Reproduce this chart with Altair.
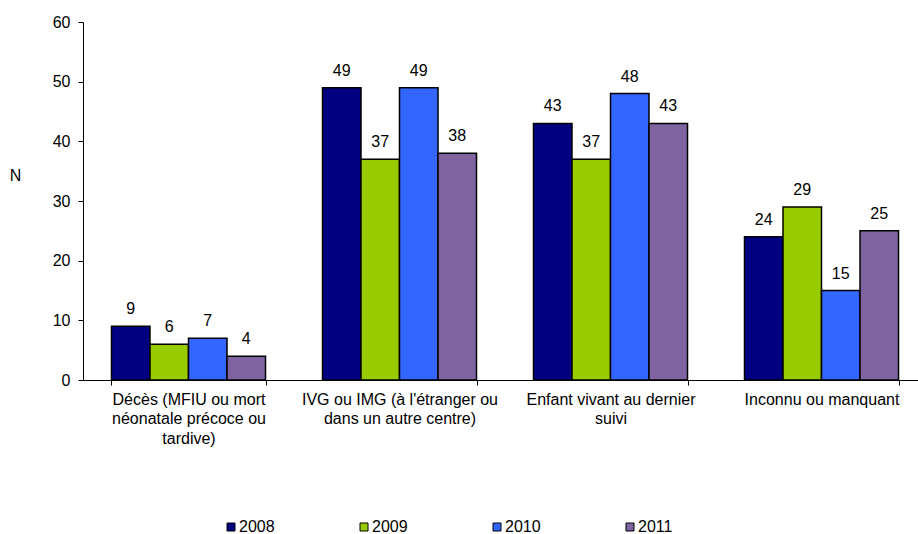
import altair as alt
import pandas as pd

# Outcome categories (line breaks mark the wrapped axis label lines)
categories = [
    "Décès (MFIU ou mort\nnéonatale précoce ou\ntardive)",
    "IVG ou IMG (à l'étranger ou\ndans un autre centre)",
    "Enfant vivant au dernier\nsuivi",
    "Inconnu ou manquant",
]
years = ["2008", "2009", "2010", "2011"]
values_2008 = [9, 49, 43, 24]
values_2009 = [6, 37, 37, 29]
values_2010 = [7, 49, 48, 15]
values_2011 = [4, 38, 43, 25]
year_colors = ["#000080", "#99CC00", "#3366FF", "#8064A2"]
y_ticks = [0, 10, 20, 30, 40, 50, 60]

series = [values_2008, values_2009, values_2010, values_2011]
rows = []
for year, vals in zip(years, series):
    for cat, v in zip(categories, vals):
        rows.append({"categorie": cat, "annee": year, "N": v})
df = pd.DataFrame(rows)

FONT = "Liberation Sans"
FS = 16

x_enc = alt.X(
    "categorie:N",
    sort=categories,
    scale=alt.Scale(paddingInner=0.27, paddingOuter=0.135, range=[0, 844]),
    axis=alt.Axis(
        title=None,
        labelExpr="split(datum.label, '\\n')",
        tickBand="extent",
        labelAngle=0,
        labelLimit=400,
        labelPadding=6,
        labelLineHeight=19.5,
        labelBaseline="top",
        tickSize=5,
        tickColor="black",
        domainColor="black",
        labelColor="black",
        labelFont=FONT,
        labelFontSize=FS,
        grid=False,
    ),
)
xoff_enc = alt.XOffset("annee:N", sort=years, scale=alt.Scale(paddingInner=0, paddingOuter=0))
y_enc = alt.Y(
    "N:Q",
    scale=alt.Scale(domain=[0, 60], nice=False),
    axis=alt.Axis(
        values=y_ticks,
        title="N",
        titleAngle=0,
        titleX=-68,
        titleY=153,
        titleAlign="center",
        titleBaseline="middle",
        titleFont=FONT,
        titleFontSize=FS,
        titleFontWeight="normal",
        titleColor="black",
        labelFont=FONT,
        labelFontSize=FS,
        labelColor="black",
        labelPadding=8,
        tickSize=5,
        tickColor="black",
        domainColor="black",
        grid=False,
    ),
)

bars = alt.Chart(df).mark_bar(stroke="black", strokeWidth=1.5).encode(
    x=x_enc,
    xOffset=xoff_enc,
    y=y_enc,
    color=alt.Color(
        "annee:N",
        sort=years,
        scale=alt.Scale(domain=years, range=year_colors),
        legend=alt.Legend(
            title=None,
            orient="none",
            direction="horizontal",
            columns=4,
            legendX=140,
            legendY=497,
            columnPadding=81,
            symbolType="square",
            symbolSize=64,
            symbolStrokeColor="black",
            symbolStrokeWidth=1,
            symbolOpacity=1,
            labelOffset=0,
            labelFont=FONT,
            labelFontSize=FS,
            labelColor="black",
        ),
    ),
)

labels = alt.Chart(df).mark_text(
    dy=-12, baseline="alphabetic", font=FONT, fontSize=FS, color="black"
).encode(
    x=alt.X("categorie:N", sort=categories),
    xOffset=alt.XOffset("annee:N", sort=years),
    y="N:Q",
    text="N:Q",
)

chart = (
    alt.layer(bars, labels)
    .properties(
        width=835,
        height=358,
        autosize=alt.AutoSizeParams(type="none"),
        padding={"left": 83, "top": 22, "right": 0, "bottom": 154},
        background="white",
    )
    .configure_view(stroke=None)
)

chart.save("out.html", embed_options={"renderer": "svg", "actions": False})
